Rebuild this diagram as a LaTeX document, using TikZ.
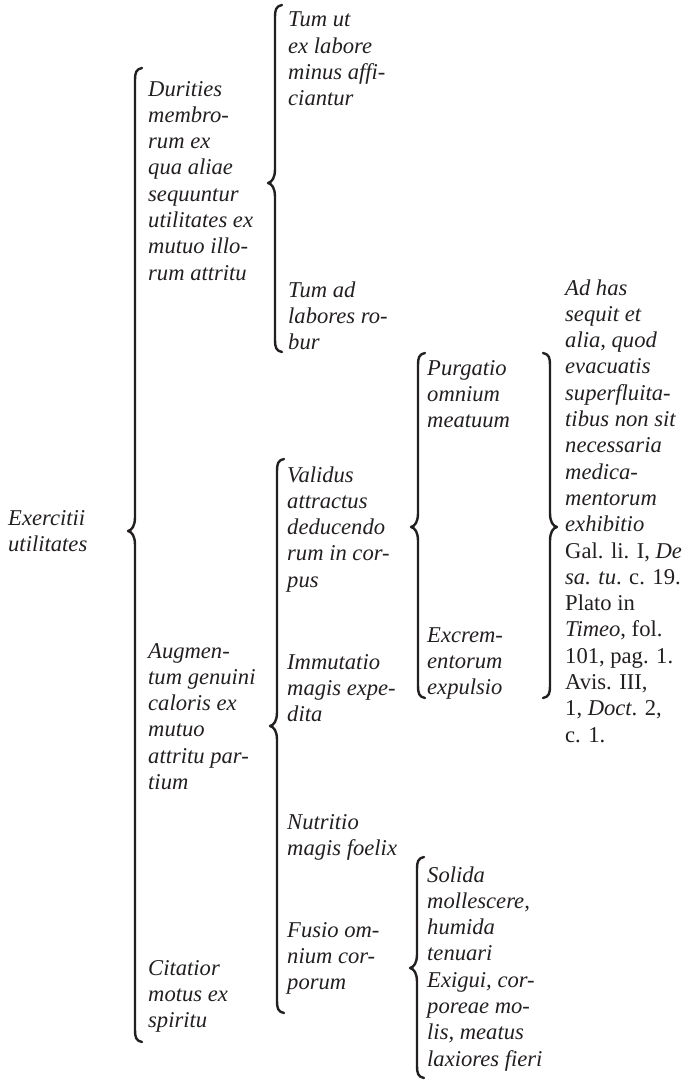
\documentclass[tikz,border=0pt]{standalone}
\usepackage{fontspec}
\setmainfont{Liberation Serif}
\definecolor{ink}{RGB}{35,31,32}
\newcommand\blk[1]{\begin{tabular}[t]{@{}l@{}}#1\end{tabular}}
% left brace: x, ytop, ytip, ybottom
\newcommand\BrL[4]{%
  \draw[brace] ({#1+7},#2) .. controls ({#1+1},{#2+1}) and (#1,{#2+5}) .. (#1,{#2+12})
    -- (#1,{#3-14}) .. controls (#1,{#3-5}) and ({#1-3},{#3-1}) .. ({#1-7},#3)
    .. controls ({#1-3},{#3+1}) and (#1,{#3+5}) .. (#1,{#3+14})
    -- (#1,{#4-12}) .. controls (#1,{#4-5}) and ({#1+1},{#4-1}) .. ({#1+7},#4);}
% right brace
\newcommand\BrR[4]{%
  \draw[brace] ({#1-7},#2) .. controls ({#1-1},{#2+1}) and (#1,{#2+5}) .. (#1,{#2+12})
    -- (#1,{#3-14}) .. controls (#1,{#3-5}) and ({#1+3},{#3-1}) .. ({#1+7},#3)
    .. controls ({#1+3},{#3+1}) and (#1,{#3+5}) .. (#1,{#3+14})
    -- (#1,{#4-12}) .. controls (#1,{#4-5}) and ({#1-1},{#4-1}) .. ({#1-7},#4);}
\begin{document}
\begin{tikzpicture}[x=1pt,y=-1pt,
  txt/.style={anchor=base west,inner sep=0pt,text=ink,
    font=\fontsize{22.6}{26.3}\selectfont\itshape},
  brace/.style={draw=ink,line width=2.4pt,line cap=round,line join=round}]
\useasboundingbox (0,0) rectangle (685,1081);
% column 1
\node[txt] (exer) at (8,525) {\blk{Exercitii\\utilitates}};
% column 2
\node[txt] (dur) at (148,96) {\blk{Durities\\membro-\\rum ex\\qua aliae\\sequuntur\\utilitates ex\\mutuo illo-\\rum attritu}};
\node[txt] (aug) at (148,658) {\blk{Augmen-\\tum genuini\\caloris ex\\mutuo\\attritu par-\\tium}};
\node[txt] (cit) at (148,975) {\blk{Citatior\\motus ex\\spiritu}};
% column 3
\node[txt] (tumut) at (288,27) {\blk{Tum ut\\ex labore\\minus affi-\\ciantur}};
\node[txt] (tumad) at (288,297) {\blk{Tum ad\\labores ro-\\bur}};
\node[txt] (val) at (287,482) {\blk{Validus\\attractus\\deducendo\\rum in cor-\\pus}};
\node[txt] (imm) at (287,669) {\blk{Immutatio\\magis expe-\\dita}};
\node[txt] (nut) at (287,829) {\blk{Nutritio\\magis foelix}};
\node[txt] (fus) at (287,937) {\blk{Fusio om-\\nium cor-\\porum}};
% column 4
\node[txt] (pur) at (427,375) {\blk{Purgatio\\omnium\\meatuum}};
\node[txt] (exc) at (427,642) {\blk{Excrem-\\entorum\\expulsio}};
\node[txt] (sol) at (427,882) {\blk{Solida\\mollescere,\\humida\\tenuari\\Exigui, cor-\\poreae mo-\\lis, meatus\\laxiores fieri}};
% column 5
\node[txt] (adh) at (565,295) {\blk{Ad has\\sequit et\\alia, quod\\evacuatis\\superfluita-\\tibus non sit\\necessaria\\medica-\\mentorum\\exhibitio\\\upshape Gal. li. I, \textit{De}\\\textit{sa. tu}\upshape. c. 19.\\\upshape Plato in\\\textit{Timeo}\upshape, fol.\\\upshape 101, pag. 1.\\\upshape Avis. III,\\\upshape 1, \textit{Doct}. 2,\\\upshape c. 1.}};
% braces
\BrL{135}{68}{531}{1042}
\BrL{275}{5}{183}{352}
\BrL{277}{459}{726}{1013}
\BrL{418}{353}{527}{698}
\BrR{550}{353}{527}{698}
\BrL{417}{857}{968}{1078}
\end{tikzpicture}
\end{document}
